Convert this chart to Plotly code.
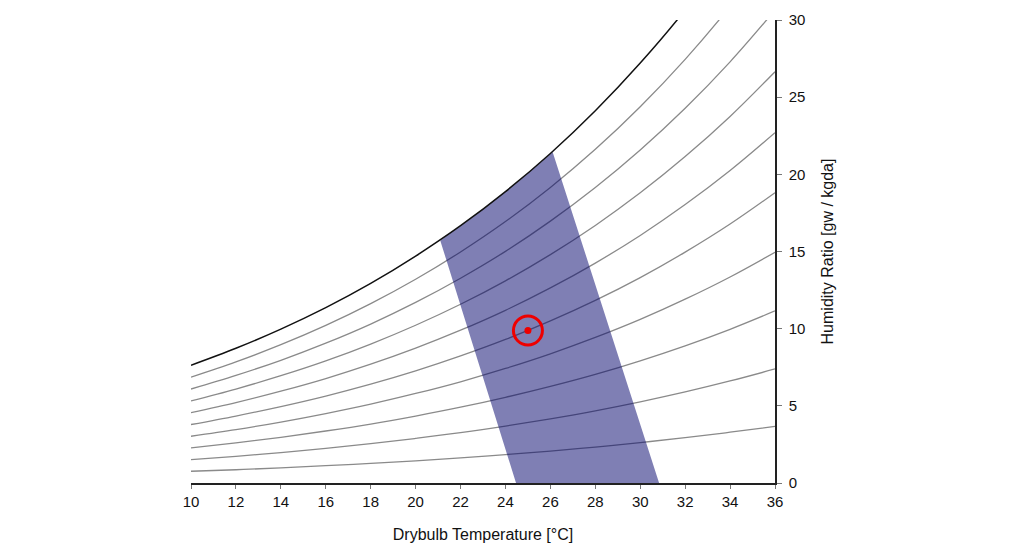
import plotly.graph_objects as go

# drybulb temperatures (deg C) where the curves were read
temps = [10, 12, 14, 16, 18, 20, 22, 24, 26, 28, 30, 32, 34, 36]

# humidity ratio (g/kg), 10% .. 100%
rh10 = [0.76, 0.86, 0.98, 1.12, 1.27, 1.44, 1.63, 1.84, 2.07, 2.33, 2.62, 2.94, 3.29, 3.67]
rh20 = [1.51, 1.73, 1.97, 2.24, 2.55, 2.89, 3.26, 3.69, 4.16, 4.68, 5.26, 5.90, 6.61, 7.39]
rh30 = [2.27, 2.60, 2.96, 3.37, 3.82, 4.34, 4.91, 5.55, 6.26, 7.04, 7.92, 8.89, 9.96, 11.15]
rh40 = [3.03, 3.46, 3.95, 4.50, 5.11, 5.80, 6.56, 7.42, 8.37, 9.43, 10.60, 11.91, 13.35, 14.95]
rh50 = [3.79, 4.34, 4.95, 5.63, 6.40, 7.26, 8.23, 9.30, 10.50, 11.83, 13.31, 14.96, 16.78, 18.81]
rh60 = [4.56, 5.21, 5.95, 6.77, 7.70, 8.74, 9.90, 11.19, 12.64, 14.25, 16.04, 18.04, 20.25, 22.70]
rh70 = [5.32, 6.09, 6.95, 7.91, 9.00, 10.22, 11.58, 13.10, 14.80, 16.69, 18.80, 21.15, 23.75, 26.65]
rh80 = [6.09, 6.97, 7.95, 9.06, 10.30, 11.70, 13.27, 15.01, 16.97, 19.15, 21.58, 24.28, 27.29, 30.64]
rh90 = [6.86, 7.85, 8.96, 10.21, 11.62, 13.20, 14.97, 16.94, 19.15, 21.62, 24.38, 27.45, 30.88, 34.69]
rh100 = [7.63, 8.73, 9.97, 11.36, 12.93, 14.70, 16.67, 18.88, 21.35, 24.12, 27.21, 30.65, 34.60, 38.90]
rh_curves = [rh10, rh20, rh30, rh40, rh50, rh60, rh70, rh80, rh90]

# shaded zone outline (temperature, humidity ratio)
zone_t = [24.47, 21.1, 21.5, 22.0, 22.5, 23.0, 23.5, 24.0, 24.5, 25.0, 25.5, 26.1, 30.84, 24.47]
zone_w = [0.0, 15.7, 16.17, 16.67, 17.19, 17.74, 18.30, 18.88, 19.47, 20.08, 20.71, 21.45, 0.0, 0.0]

# current state point
point_t = [25.0]
point_w = [9.88]

fig = go.Figure()

for w in rh_curves:
    fig.add_trace(go.Scatter(x=temps, y=w, mode="lines", line=dict(color="#8a8a8a", width=1.3, shape="spline"),
                             hoverinfo="skip", showlegend=False))

fig.add_trace(go.Scatter(x=zone_t, y=zone_w, mode="lines", fill="toself", fillcolor="rgba(0,0,105,0.5)",
                         line=dict(width=0), hoverinfo="skip", showlegend=False))

fig.add_trace(go.Scatter(x=temps, y=rh100, mode="lines", line=dict(color="#111111", width=1.5, shape="spline"),
                         hoverinfo="skip", showlegend=False))

fig.add_trace(go.Scatter(x=point_t, y=point_w, mode="markers",
                         marker=dict(symbol="circle-open", size=29, color="#ee0000", line=dict(width=3, color="#ee0000")),
                         showlegend=False))
fig.add_trace(go.Scatter(x=point_t, y=point_w, mode="markers", marker=dict(size=7, color="#ee0000"), showlegend=False))

fnt = dict(family="Helvetica, Liberation Sans, Arial", size=15, color="#111111")

fig.update_layout(
    width=1024, height=552,
    margin=dict(l=183, r=257, t=12, b=77),
    paper_bgcolor="white", plot_bgcolor="white",
    font=fnt,
    xaxis=dict(range=[10, 36], tickvals=list(range(10, 37, 2)), showgrid=False, zeroline=False, automargin=False,
               showline=True, linecolor="#222222", linewidth=1.5, ticks="outside", ticklen=4, tickcolor="#777777",
               title=dict(text="Drybulb Temperature [°C]", font=dict(size=16), standoff=20)),
    yaxis=dict(range=[0, 30], tickvals=list(range(0, 31, 5)), side="right", showgrid=False, zeroline=False,
               automargin=False, ticklabelstandoff=4,
               showline=True, linecolor="#222222", linewidth=1.5, ticks="outside", ticklen=5, tickcolor="#777777",
               title=dict(text="Humidity Ratio [gw / kgda]", font=dict(size=16), standoff=17)),
)

fig.write_html("out.html")
